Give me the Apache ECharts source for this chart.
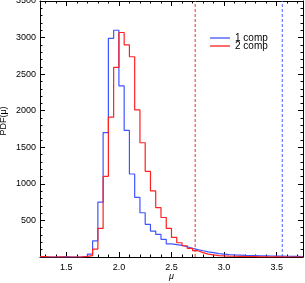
<!DOCTYPE html>
<html><head><meta charset="utf-8">
<script src="https://cdn.jsdelivr.net/npm/echarts@6/dist/echarts.min.js"></script>
<style>html,body{margin:0;padding:0;background:#fff}#c{width:305px;height:283px}</style>
</head><body><div id="c"></div>
<script>
// Histogram bins: left edge of first bin and bin width
const binStart = 1.25;
const binWidth = 0.05;
// PDF values per bin (1 comp, 2 comp)
const comp1 = [0,0,0,0,5, 0,0,2,8,40, 220,750,1700,2990,3100, 2340,1730,1135,815,605,
  447,355,309,241,180, 170,160,140,120,100, 85,70,60,45,38, 32,28,25,22,20,
  18,16,15,14,12, 11,10,9,8,7];
const comp2 = [4,0,0,3,0, 0,0,3,8,20, 109,391,1103,1911,2592, 3069,2901,2738,2011,1562,
  1171,903,676,540,390, 268,195,154,118,86, 59,40,28,20,15, 12,10,8,6,5,
  4,3,2,2,1, 1,0,0,0,0];
const seriesNames = ['1 comp', '2 comp'];
// vertical dashed marker positions
const marker1 = 3.553;
const marker2 = 2.725;
// tick values
const xMajor = [1.5, 2.0, 2.5, 3.0, 3.5];
const xMinor = [1.3,1.4,1.6,1.7,1.8,1.9,2.1,2.2,2.3,2.4,2.6,2.7,2.8,2.9,3.1,3.2,3.3,3.4,3.6,3.7];
const yTicks = [0, 500, 1000, 1500, 2000, 2500, 3000, 3500];

function steps(vals) {
  const pts = vals.map((v, i) => [+(binStart + i * binWidth).toFixed(4), v]);
  pts.push([+(binStart + vals.length * binWidth).toFixed(4), vals[vals.length - 1]]);
  return pts;
}
const yMin = yTicks[0], yMax = yTicks[yTicks.length - 1];

const font = 'Liberation Sans';
const xMin = binStart, xMax = +(binStart + comp1.length * binWidth).toFixed(4);
const blk = {color: '#000', width: 1};
function xAx(pos, vals, len, showLine, labels) {
  return {
    type: 'value', position: pos, min: xMin, max: xMax, gridIndex: 0,
    axisLine: {show: showLine, lineStyle: blk},
    axisTick: {show: true, inside: true, length: len, customValues: vals, lineStyle: blk},
    axisLabel: labels ? {show: true, customValues: vals, formatter: v => (+v).toFixed(1), color: '#000', fontFamily: font, fontSize: 9, margin: 6} : {show: false},
    splitLine: {show: false},
    name: labels ? 'μ' : '', nameLocation: 'middle', nameGap: 15, nameMoveOverlap: false,
    nameTextStyle: {color: '#000', fontFamily: font, fontSize: 9, fontStyle: 'italic'}
  };
}
function yAx(pos, labels) {
  return {
    type: 'value', position: pos, min: yMin, max: yMax, interval: yTicks[1] - yTicks[0],
    axisLine: {show: true, lineStyle: blk},
    axisTick: {show: true, inside: true, length: 5, lineStyle: blk},
    minorTick: {show: true, splitNumber: 5, length: 2.5, lineStyle: blk},
    axisLabel: labels ? {show: true, color: '#000', fontFamily: font, fontSize: 9, margin: 4, formatter: v => v === 0 ? '' : String(v)} : {show: false},
    splitLine: {show: false},
    name: labels ? 'PDF(μ)' : '', nameLocation: 'middle', nameGap: 32, nameMoveOverlap: false,
    nameTextStyle: {color: '#000', fontFamily: font, fontSize: 9, padding: [0, 0, 0, 16]}
  };
}
function markerSeries(x, color) {
  return {
    type: 'line', data: [[x, yMin], [x, yMax]], symbol: 'none', silent: true,
    xAxisIndex: 0, yAxisIndex: 0,
    lineStyle: {color: color, width: 1, type: [3, 2]}
  };
}

const chart = echarts.init(document.getElementById('c'), null, {renderer: 'canvas'});
chart.setOption({
  animation: false,
  backgroundColor: '#fff',
  grid: {left: 40, right: 2, top: 1, bottom: 26, containLabel: false, outerBoundsMode: 'none'},
  xAxis: [
    xAx('bottom', xMajor, 5, true, true),
    xAx('bottom', xMinor, 2.5, false, false),
    xAx('top', xMajor, 5, true, false),
    xAx('top', xMinor, 2.5, false, false)
  ],
  yAxis: [yAx('left', true), yAx('right', false)],
  legend: {
    left: 205, top: 28, orient: 'vertical', itemGap: -2, itemWidth: 20, itemHeight: 1.3,
    icon: 'rect',
    textStyle: {color: '#000', fontFamily: font, fontSize: 10, lineHeight: 8, padding: 0},
    data: seriesNames
  },
  series: [
    markerSeries(marker1, '#4a60ff'),
    markerSeries(marker2, '#e8303c'),
    {
      name: seriesNames[0], type: 'line', step: 'end', data: steps(comp1),
      xAxisIndex: 0, yAxisIndex: 0, symbol: 'none', showSymbol: false,
      lineStyle: {color: '#3f55ff', width: 1.2}, itemStyle: {color: '#3f55ff'}
    },
    {
      name: seriesNames[1], type: 'line', step: 'end', data: steps(comp2),
      xAxisIndex: 0, yAxisIndex: 0, symbol: 'none', showSymbol: false,
      lineStyle: {color: '#ff2020', width: 1.2}, itemStyle: {color: '#ff2020'}
    }
  ]
});
</script>
</body></html>
